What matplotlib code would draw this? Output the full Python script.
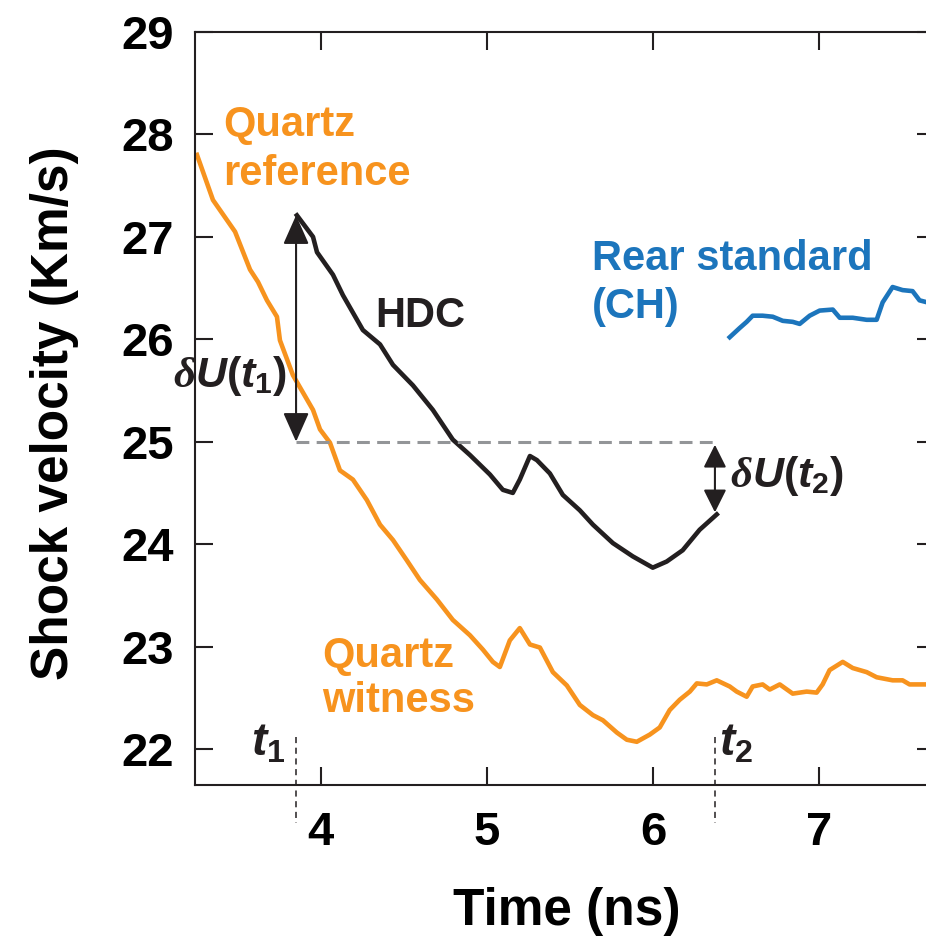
import matplotlib
matplotlib.use('Agg')
import matplotlib.pyplot as plt

plt.rcParams['font.family'] = ['Liberation Sans', 'DejaVu Sans']
plt.rcParams['font.weight'] = 'bold'
plt.rcParams['mathtext.fontset'] = 'custom'
plt.rcParams['mathtext.rm'] = 'Liberation Sans'
plt.rcParams['mathtext.it'] = 'Liberation Sans:italic:bold'
plt.rcParams['mathtext.bf'] = 'Liberation Sans:bold'
plt.rcParams['mathtext.sf'] = 'Liberation Serif:italic'

# Quartz (reference + witness) shock velocity, km/s vs ns
quartz_t = [3.256, 3.352, 3.485, 3.575, 3.623, 3.677, 3.737, 3.755, 3.833, 3.954,
            3.996, 4.056, 4.116, 4.194, 4.278, 4.357, 4.435, 4.519, 4.597, 4.699,
            4.795, 4.898, 4.976, 5.036, 5.078, 5.138, 5.198, 5.259, 5.319, 5.397,
            5.481, 5.559, 5.638, 5.698, 5.782, 5.842, 5.902, 5.980, 6.040, 6.100,
            6.160, 6.221, 6.263, 6.323, 6.383, 6.461, 6.503, 6.563, 6.599, 6.659,
            6.702, 6.762, 6.840, 6.924, 6.984, 7.020, 7.062, 7.141, 7.201, 7.285,
            7.345, 7.441, 7.501, 7.543, 7.650]
quartz_u = [27.80, 27.36, 27.05, 26.68, 26.56, 26.38, 26.22, 25.99, 25.65, 25.31,
            25.12, 24.99, 24.72, 24.63, 24.43, 24.19, 24.04, 23.84, 23.65, 23.46,
            23.26, 23.11, 22.97, 22.85, 22.80, 23.06, 23.18, 23.02, 22.99, 22.75,
            22.62, 22.43, 22.33, 22.28, 22.16, 22.09, 22.07, 22.14, 22.21, 22.38,
            22.48, 22.56, 22.64, 22.63, 22.67, 22.61, 22.56, 22.51, 22.61, 22.63,
            22.58, 22.63, 22.54, 22.56, 22.55, 22.63, 22.77, 22.85, 22.79, 22.75,
            22.70, 22.67, 22.67, 22.63, 22.63]

# HDC sample
hdc_t = [3.857, 3.954, 3.978, 4.074, 4.134, 4.254, 4.357, 4.435, 4.555, 4.675,
         4.795, 4.898, 5.018, 5.096, 5.156, 5.198, 5.259, 5.301, 5.379, 5.457,
         5.559, 5.638, 5.758, 5.878, 5.998, 6.082, 6.178, 6.280, 6.383]
hdc_u = [27.21, 27.00, 26.85, 26.63, 26.43, 26.09, 25.95, 25.75, 25.55, 25.31,
         25.02, 24.87, 24.68, 24.53, 24.50, 24.63, 24.86, 24.82, 24.69, 24.48,
         24.33, 24.19, 24.01, 23.88, 23.77, 23.83, 23.94, 24.14, 24.29]

# Rear standard (CH)
ch_t = [6.461, 6.521, 6.563, 6.599, 6.659, 6.720, 6.780, 6.840, 6.882, 6.942,
        7.002, 7.081, 7.123, 7.201, 7.285, 7.345, 7.381, 7.441, 7.501, 7.561,
        7.603, 7.650]
ch_u = [26.02, 26.11, 26.17, 26.23, 26.23, 26.22, 26.18, 26.17, 26.15, 26.23,
        26.28, 26.29, 26.21, 26.21, 26.19, 26.19, 26.36, 26.51, 26.48, 26.47,
        26.38, 26.36]

t1, t2 = 3.852, 6.372
u_ref = 25.0
u_hdc_t1 = 27.21
u_hdc_t2 = 24.31

x_ticks = [4, 5, 6, 7]
y_ticks = [22, 23, 24, 25, 26, 27, 28, 29]

orange = '#F7931E'
blue = '#1C75BC'
black = '#231F20'
gray = '#939598'

fig = plt.figure(figsize=(9.26, 9.39), dpi=100)
ax = fig.add_axes([195 / 926, 1 - 785 / 939, 740 / 926, (785 - 32) / 939])

ax.plot(quartz_t, quartz_u, color=orange, lw=3.3)
ax.plot(hdc_t, hdc_u, color=black, lw=3.3)
ax.plot(ch_t, ch_u, color=blue, lw=3.3)

# reference level and the two velocity differences
ax.plot([t1, t2], [u_ref, u_ref], color=gray, lw=2.2, dashes=(4.2, 2.4))
ax.annotate('', xy=(t1, u_hdc_t1), xytext=(t1, u_ref),
            arrowprops=dict(arrowstyle='<|-|>,head_length=0.9,head_width=0.4',
                            color=black, lw=1.5, mutation_scale=20,
                            shrinkA=0, shrinkB=0))
ax.annotate('', xy=(t2, u_ref - 0.03), xytext=(t2, u_hdc_t2),
            arrowprops=dict(arrowstyle='<|-|>,head_length=0.7,head_width=0.35',
                            color=black, lw=1.5, mutation_scale=20,
                            shrinkA=0, shrinkB=0))

# t1 / t2 markers below the curves
for tt, y0 in [(t1, 22.12), (t2, 22.12)]:
    ax.plot([tt, tt], [y0, 21.28], color=black, lw=1.1, dashes=(4, 3),
            clip_on=False)

ax.text(3.413, 27.98, 'Quartz', color=orange, fontsize=30, fontweight='bold')
ax.text(3.413, 27.51, 'reference', color=orange, fontsize=30, fontweight='bold')
ax.text(4.008, 22.80, 'Quartz', color=orange, fontsize=30, fontweight='bold')
ax.text(4.008, 22.36, 'witness', color=orange, fontsize=30, fontweight='bold')
ax.text(4.327, 26.12, 'HDC', color=black, fontsize=30, fontweight='bold')
ax.text(5.633, 26.68, 'Rear standard', color=blue, fontsize=30, fontweight='bold')
ax.text(5.633, 26.21, '(CH)', color=blue, fontsize=30, fontweight='bold')

ax.text(3.797, 25.535, r'$\mathsf{\delta}U(t_{\mathbf{1}})$', color=black,
        fontsize=31, ha='right', va='baseline')
ax.text(6.462, 24.56, r'$\mathsf{\delta}U(t_{\mathbf{2}})$', color=black,
        fontsize=31, ha='left', va='baseline')
ax.text(3.786, 21.94, r'$t_{\mathbf{1}}$', color=black, fontsize=33,
        ha='right', va='baseline')
ax.text(6.397, 21.94, r'$t_{\mathbf{2}}$', color=black, fontsize=33,
        ha='left', va='baseline')

ax.set_xlim(3.244, 7.696)
ax.set_ylim(21.648, 29)
ax.set_xticks(x_ticks)
ax.set_yticks(y_ticks)
ax.tick_params(direction='in', length=13, width=1.5, color=black,
               top=True, right=True, labelsize=34, pad=15)
ax.tick_params(axis='x', pad=19)
for lab in ax.get_xticklabels() + ax.get_yticklabels():
    lab.set_fontweight('bold')
for sp in ax.spines.values():
    sp.set_linewidth(1.5)
    sp.set_color(black)

fig.text(55 / 926, 1 - 413 / 939, 'Shock velocity (Km/s)', rotation=90,
         ha='center', va='center', fontsize=37, fontweight='bold')
fig.text(567 / 926, 1 - 925 / 939, 'Time (ns)', ha='center', va='baseline',
         fontsize=37, fontweight='bold')

fig.savefig('out.png', dpi=100)
